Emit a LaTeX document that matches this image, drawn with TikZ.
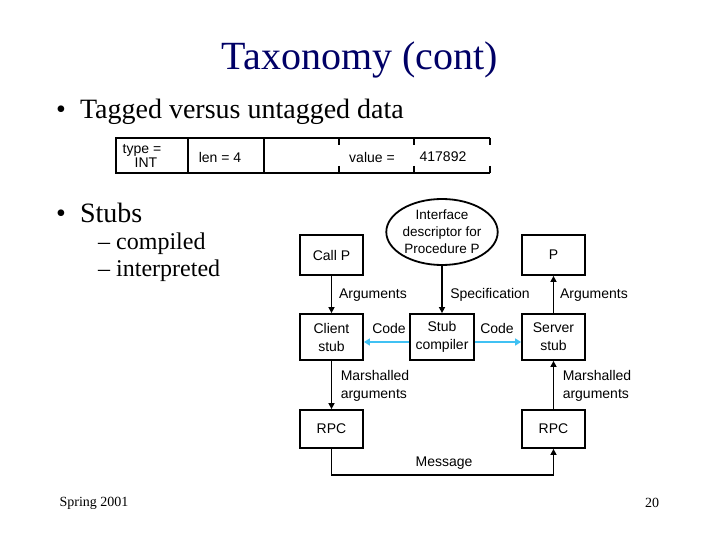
\documentclass[tikz,border=0pt]{standalone}
\usepackage{fontspec}
\setmainfont{Liberation Serif}
\newfontfamily\arial{Liberation Sans}
\usetikzlibrary{arrows.meta,shapes.geometric}
\begin{document}
\begin{tikzpicture}[x=1pt,y=-1pt,
 bx/.style={draw,line width=1.8pt,font=\arial\fontsize{14}{15}\selectfont,align=center,inner sep=0},
 lb/.style={font=\arial\fontsize{14}{15}\selectfont,align=left,inner sep=0},
 ar/.style={line width=1.8pt,-{Triangle[length=6pt,width=6pt]}},
 ca/.style={line width=2.5pt,cyan!75,-{Triangle[length=6pt,width=7pt]}},
 bul/.style={font=\fontsize{28}{32}\selectfont,anchor=west,inner sep=0},
 sub/.style={font=\fontsize{24}{28}\selectfont,anchor=west,inner sep=0}]
\useasboundingbox (0,0) rectangle (720,540);
\node[font=\fontsize{40}{44}\selectfont,text=blue!40!black] (title) at (360,60) {Taxonomy (cont)};
\node[bul] (b1) at (56,112) {\textbullet\ \ Tagged versus untagged data};
\node[bul] (b2) at (56,213) {\textbullet\ \ Stubs};
\node[sub] (s1) at (98,244) {-- compiled};
\node[sub] (s2) at (98,271) {-- interpreted};
\node[font=\fontsize{14}{16}\selectfont] (spring) at (94,503) {Spring 2001};
\node[font=\fontsize{14}{16}\selectfont] (pg) at (652,503) {20};
% tagged row
\draw[line width=1.8pt] (116,138) rectangle (188,173);
\draw[line width=1.8pt] (188,138) rectangle (264,173);
\draw[line width=1.8pt] (264,138) -- (490,138) (264,173) -- (490,173);
\foreach \x in {339,414,490}{\draw[line width=1.8pt] (\x,138)--(\x,145) (\x,166)--(\x,173);}
\node[lb,align=center,font=\arial\fontsize{14}{12}\selectfont] (ty) at (142,156) {type =\\\ \ INT};
\node[lb] (len) at (220,157) {len = 4};
\node[lb] (val) at (372,157) {value =};
\node[lb] (num) at (443,157) {417892};
% diagram
\node[bx,minimum width=63,minimum height=40] (call) at (331.5,255) {Call P};
\node[draw,line width=1.8pt,ellipse,minimum width=84,minimum height=66,inner sep=0,font=\arial\fontsize{13.5}{17}\selectfont,align=center] (idesc) at (442,232) {Interface\\descriptor for\\Procedure P};
\node[bx,minimum width=63,minimum height=40] (p) at (553.5,255) {P};
\node[bx,minimum width=63,minimum height=46,font=\arial\fontsize{14}{18}\selectfont] (cs) at (331.5,337) {Client\\stub};
\node[bx,minimum width=64,minimum height=46,font=\arial\fontsize{14}{18}\selectfont] (sc) at (442,337) {Stub\\compiler};
\node[bx,minimum width=63,minimum height=46,font=\arial\fontsize{14}{18}\selectfont] (ss) at (553.5,337) {Server\\stub};
\node[bx,minimum width=63,minimum height=38] (rl) at (331.5,429) {RPC};
\node[bx,minimum width=63,minimum height=38] (rr) at (553.5,429) {RPC};
\draw[ar] (call) -- (cs);
\draw[ar] (idesc) -- (sc);
\draw[ar] (ss) -- (p);
\draw[ar] (cs) -- (rl);
\draw[ar] (rr) -- (ss);
\coordinate (m1) at (331.5,475); \coordinate (m2) at (553.5,475);
\draw[ar] (rl.south) -- (m1) -- (m2) -- (rr.south);
\draw[ca] (sc.west|-0,342) -- (cs.east|-0,342);
\draw[ca] (sc.east|-0,342) -- (ss.west|-0,342);
\node[lb] (a1) at (373,295) {Arguments};
\node[lb] (spec) at (490,295) {Specification};
\node[lb] (a2) at (594,295) {Arguments};
\node[lb] (c1) at (389,328) {Code};
\node[lb] (c2) at (497,328) {Code};
\node[lb,font=\arial\fontsize{14}{18}\selectfont] (m1l) at (375,386) {Marshalled\\arguments};
\node[lb,font=\arial\fontsize{14}{18}\selectfont] (m2l) at (597,386) {Marshalled\\arguments};
\node[lb] (msg) at (444,463) {Message};
\end{tikzpicture}
\end{document}
